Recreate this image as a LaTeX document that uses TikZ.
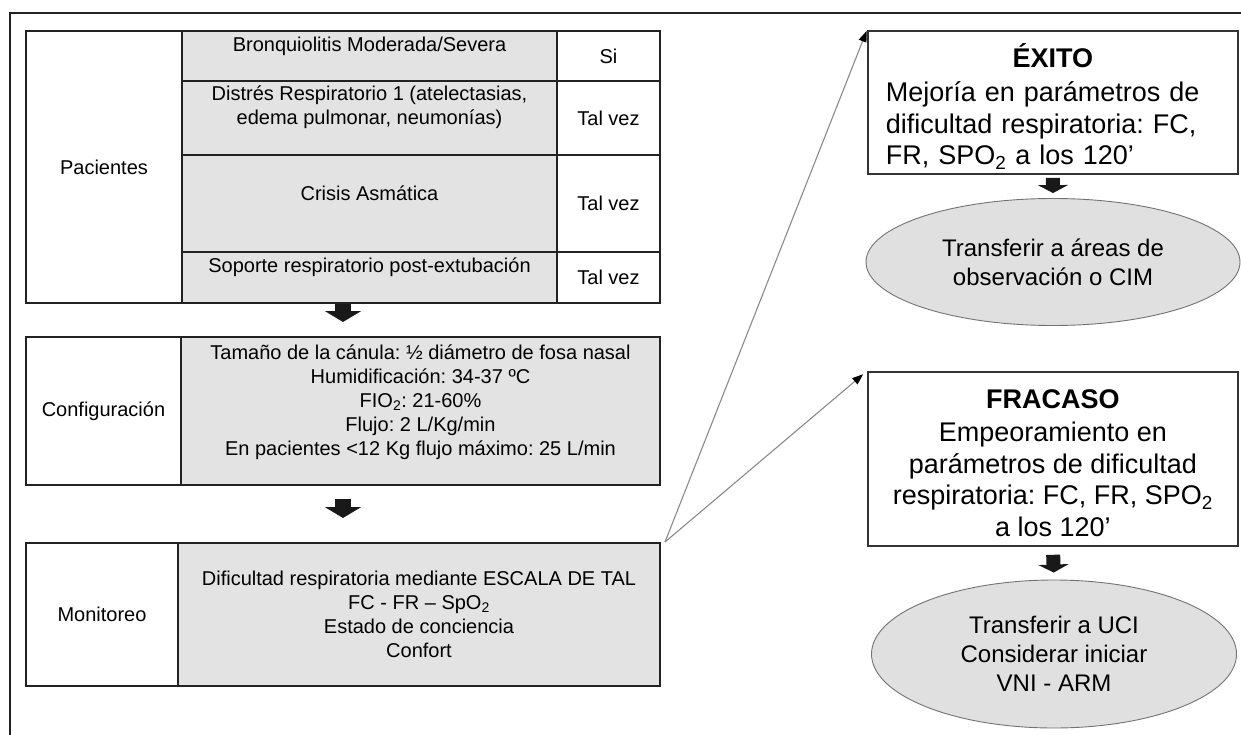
\documentclass[tikz,border=0pt]{standalone}
\usepackage{fontspec}
\setmainfont{Liberation Sans}
\usetikzlibrary{positioning, arrows.meta, shapes.geometric, calc}
\definecolor{cellgray}{HTML}{E3E3E3}
\definecolor{ovalgray}{HTML}{E0E0E0}
\definecolor{linedark}{HTML}{222222}
\definecolor{leadgray}{HTML}{8A8A8A}

\begin{document}
\frenchspacing
\begin{tikzpicture}[
    x=1pt, y=-1pt,
    cell/.style={
        draw=linedark, line width=2pt, rectangle, anchor=north west,
        inner sep=0pt, align=center
    },
    graycell/.style={cell, fill=cellgray},
    outcome/.style={
        draw=black!80, line width=1.8pt, rectangle, anchor=north west,
        minimum width=370pt, inner sep=0pt
    },
    outtext/.style={font=\fontsize{27}{31.5}\selectfont},
    oval/.style={
        draw=black!55, line width=0.9pt, ellipse, fill=ovalgray,
        inner sep=0pt, align=center, font=\fontsize{24}{29}\selectfont
    },
    every node/.style={font=\fontsize{20}{24}\selectfont},
    blockarrow/.style={draw=black!90, line width=16pt, -{Triangle[width=36pt, length=11pt]}},
    smallblock/.style={draw=black!90, line width=14pt, -{Triangle[width=30pt, length=8pt]}},
    leadarrow/.style={draw=leadgray, line width=1.1pt, -{Triangle[width=8pt, length=11pt, color=black]}},
]
\useasboundingbox (0,0) rectangle (1241,735);
\draw[linedark, line width=2pt] (10,735) -- (10,13) -- (1241,13);

% Patients table
\node[cell, minimum width=156pt, minimum height=272pt] (pac) at (25,30) {Pacientes};
\node[graycell, minimum width=375pt, minimum height=50pt] (bronq) at (181,30) {};
\node[graycell, minimum width=375pt, minimum height=74pt] (distres) at (181,80) {};
\node[graycell, minimum width=375pt, minimum height=97pt] (crisis) at (181,154) {};
\node[graycell, minimum width=375pt, minimum height=51pt] (soporte) at (181,251) {};
\node[cell, minimum width=103pt, minimum height=50pt] (si) at (556,30) {Si};
\node[cell, minimum width=103pt, minimum height=74pt] (talvez1) at (556,80) {Tal vez};
\node[cell, minimum width=103pt, minimum height=97pt] (talvez2) at (556,154) {Tal vez};
\node[cell, minimum width=103pt, minimum height=51pt] (talvez3) at (556,251) {Tal vez};
% texts sit a bit above the middle of their cells
\node (bronqtxt) at ([yshift=10pt]bronq.center) {Bronquiolitis Moderada/Severa};
\node[align=center] (distrestxt) at ([yshift=11pt]distres.center) {Distrés Respiratorio 1 (atelectasias,\\ edema pulmonar, neumonías)};
\node (crisistxt) at ([yshift=10pt]crisis.center) {Crisis Asmática};
\node (soportetxt) at ([yshift=10pt]soporte.center) {Soporte respiratorio post-extubación};

% Settings
\node[cell, minimum width=155pt, minimum height=148pt] (cfg) at (25,336) {Configuración};
\node[graycell, minimum width=479pt, minimum height=148pt] (cfgbox) at (180,336) {};
\node[align=center] (cfgtxt) at ([yshift=9pt]cfgbox.center) {Tamaño de la cánula: ½ diámetro de fosa nasal\\ Humidificación: 34-37 ºC\\ FIO\textsubscript{2}: 21-60\%\\ Flujo: 2 L/Kg/min\\ En pacientes <12 Kg flujo máximo: 25 L/min};

% Monitoring
\node[cell, minimum width=152pt, minimum height=143pt] (mon) at (25,542) {Monitoreo};
\node[graycell, minimum width=482pt, minimum height=143pt] (monbox) at (177,542) {Dificultad respiratoria mediante ESCALA DE TAL\\ FC - FR – SpO\textsubscript{2}\\ Estado de conciencia\\ Confort};

% Outcomes
\node[outcome, minimum height=143pt] (exito) at (867,30) {};
\node[outtext, text width=334pt, align=left] (exitotxt) at ([yshift=-4pt]exito.center) {\makebox[\hsize]{\textbf{ÉXITO}}\\[3pt] Mejoría en parámetros de\\ dificultad respiratoria: FC,\\ FR, SPO\textsubscript{2} a los 120’};
\node[oval, minimum width=374pt, minimum height=127pt] (obs) at (1053,262) {Transferir a áreas de\\ observación o CIM};
\node[outcome, minimum height=174pt] (fracaso) at (867,371) {};
\node[outtext, align=center] (fracasotxt) at ([yshift=-4pt]fracaso.center) {\textbf{FRACASO}\\[2pt] Empeoramiento en\\ parámetros de dificultad\\ respiratoria: FC, FR, SPO\textsubscript{2}\\ a los 120’};
\node[oval, minimum width=365pt, minimum height=148pt] (uci) at (1054,654) {Transferir a UCI\\ Considerar iniciar\\ VNI - ARM};

\draw[blockarrow, shorten >=14pt] ($(pac.south west)!.5!(talvez3.south east)$) -- ($(cfg.north west)!.5!(cfgbox.north east)$);
\draw[blockarrow, shorten <=13pt, shorten >=24pt] ($(cfg.south west)!.5!(cfgbox.south east)$) -- ($(mon.north west)!.5!(monbox.north east)$);
\draw[smallblock, shorten <=3pt, shorten >=5pt] (exito.south) -- (obs.north);
\draw[smallblock, shorten <=8pt, shorten >=7pt] (fracaso.south) -- (uci.north);
\draw[leadarrow, shorten >=1pt] ([xshift=4pt]monbox.north east) -- (exito.north west);
\draw[leadarrow, shorten >=5pt] ([xshift=4pt]monbox.north east) -- (fracaso.north west);
\end{tikzpicture}
\end{document}
